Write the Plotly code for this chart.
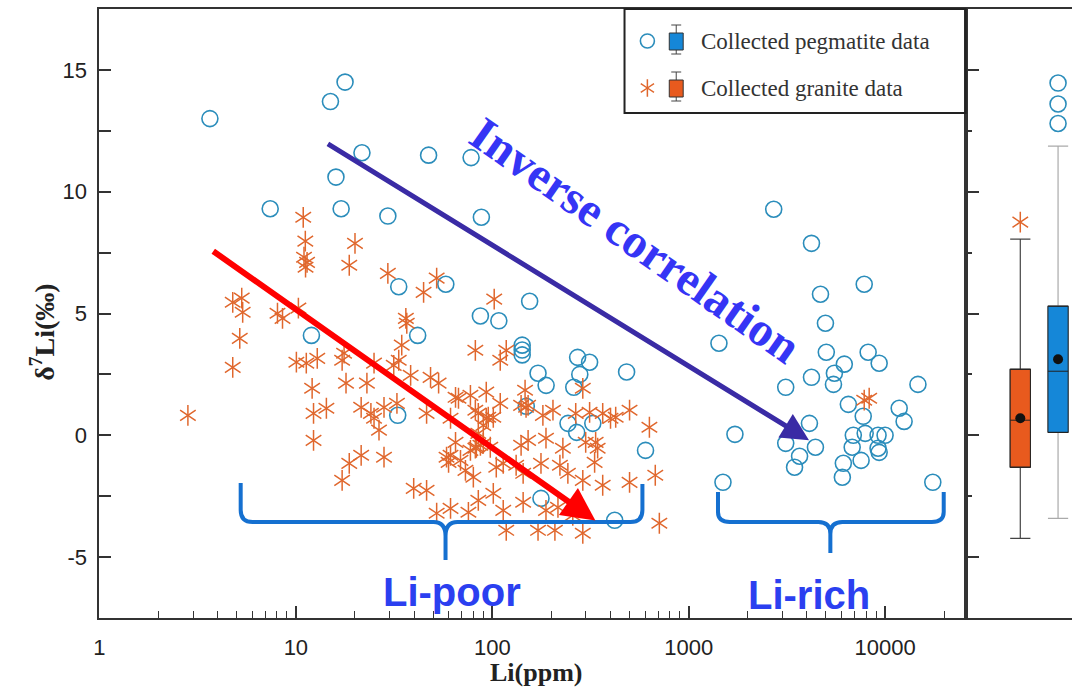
import numpy as np
import plotly.graph_objects as go

W, H = 1072, 688

# ---------------- data ----------------
peg_li = [3.65, 15.0, 17.8, 7.4, 16, 21.7, 17, 29.4, 47.4, 78, 88, 12, 33.4, 41.7, 58, 87, 108, 33,
          155, 142, 142, 142, 171, 188, 272, 313, 279, 260, 483, 149, 243, 325, 269, 603, 177, 420,
          2710, 4220, 7830, 4690, 4970, 1426, 5020, 8200, 9330, 6200, 5520, 4220, 5460, 3120, 14700,
          6500, 11800, 7740, 12500, 4120, 1720, 6890, 7920, 9210, 10000, 3120, 4420, 6800, 9210,
          9330, 3670, 7550, 6130, 3460, 6060, 1495, 17500]
peg_d7li = [13.0, 13.7, 14.5, 9.3, 10.6, 11.6, 9.3, 9.0, 11.5, 11.4, 8.95, 4.1, 6.1, 4.1, 6.2, 4.9, 4.7, 0.82,
            5.5, 3.7, 3.5, 3.3, 2.55, 2.05, 3.2, 3.0, 2.5, 1.97, 2.6, 1.19, 0.49, 0.49, 0.12, -0.62, -2.59, -3.49,
            9.28, 7.88, 6.2, 5.79, 4.6, 3.78, 3.41, 3.41, 2.96, 2.92, 2.55, 2.38, 2.09, 1.97, 2.09,
            1.27, 1.11, 0.78, 0.57, 0.49, 0.04, 0.0, 0.08, 0.0, 0.0, -0.33, -0.49, -0.49, -0.53,
            -0.70, -0.86, -1.03, -1.15, -1.31, -1.72, -1.93, -1.93]

gra_li = [2.82, 4.77, 5.30, 5.36, 5.18, 4.77, 10.9, 11.17, 11.0, 11.4, 11.2, 20.0, 18.7, 29.4, 44.7, 52.1,
          36.3, 36.7, 34.6, 8.06, 8.55, 10.3, 10.06, 11.3, 12.85, 17.6, 17.2, 25.0, 33.4, 31.5, 38.4, 48.5,
          53.3, 23.0, 18.0, 12.1, 12.3, 14.3, 21.5, 24.1, 25.0, 28.1, 32.7, 26.5, 46.3, 65.0, 77.4, 93.2,
          12.3, 21.5, 18.7, 17.2, 28.1, 39.8, 46.3, 52.1, 61.3, 75.6, 84.9, 101.2, 58.5, 68.9, 73.0, 80.1,
          77.4, 83.0, 90.0, 93.2, 101.2, 82.0, 109.8, 109.8, 82.0, 102.3, 117.8, 67.3, 146.9, 140.2, 152.2,
          61.3, 84.9, 95.4, 90.0, 84.9, 97.7, 87.0, 82.0, 65.0, 61.3, 59.9, 104.8, 113.7, 132.3, 143.6,
          177, 221, 242.6, 289, 332, 344, 336, 299, 228.8, 187.7, 152.2, 140.2, 181, 203.7, 266, 313,
          365, 400, 425, 500, 631, 365, 500, 676, 289, 148.6, 113.7, 143.6, 187.7, 216, 257, 117.8,
          171, 208.4, 289, 709, 7830, 8300]
gra_d7li = [0.82, 5.46, 5.63, 5.05, 3.98, 2.79, 8.95, 7.97, 7.31, 7.10, 6.90, 7.88, 6.98, 6.65, 5.87, 6.45,
            4.80, 4.60, 3.70, 5.01, 4.80, 5.22, 3.00, 2.96, 3.16, 3.37, 3.08, 2.96, 3.08, 2.87, 2.46, 2.38,
            2.14, 2.14, 2.14, 1.93, 0.90, 1.11, 1.15, 0.90, 0.70, 1.15, 1.31, 0.21, 0.90, 1.56, 1.64, 1.77,
            -0.21, -0.82, -1.15, -1.85, -0.90, -2.18, -2.26, -3.20, -3.00, -3.16, -2.67, -2.38, -0.90, -1.03, -1.44, -1.72,
            -0.62, -0.49, -0.33, 0.70, 0.74, 1.03, 1.31, 3.08, 3.49, 5.59, 3.49, 1.52, 1.85, 1.23, 1.23,
            0.70, 0.90, 0.74, 0.41, 0.08, -0.49, -0.41, -0.53, -0.29, -0.82, -1.11, -1.31, -1.15, -1.23, -1.56,
            -1.15, -1.23, -1.56, -1.85, -1.11, -0.53, -0.29, -0.29, -0.53, -0.12, -0.21, -0.41, 0.82, 1.03, 0.90, 0.94,
            0.90, 0.70, 0.74, 1.03, 0.33, -2.05, -1.93, -1.64, 1.93, 1.15, -3.08, -2.75, -3.08, -2.96, -3.29, -3.90,
            -3.90, -3.90, -4.02, -3.61, 1.44, 1.52]

# box-plot statistics
box_names = ["granite", "pegmatite"]
box_pos = [0.514, 0.869]
box_q1 = [-1.31, 0.12]
box_median = [0.62, 2.63]
box_q3 = [2.71, 5.30]
box_low = [-4.23, -3.41]
box_high = [8.05, 11.87]
box_mean = [0.70, 3.12]
gra_outliers = [8.75]
peg_outliers = [14.46, 13.60, 12.80]

x_tickvals = [1, 10, 100, 1000, 10000]
x_ticktext = ["1", "10", "100", "1000", "10000"]
y_tickvals = [-5, 0, 5, 10, 15]
y_ticktext = ["-5", "0", "5", "10", "15"]

# ---------------- style ----------------
BLUE_C = "#2b8dbb"
ORANGE_C = "#e0672d"
BOX_OR = "#e85a1e"
BOX_BL = "#1587d8"
AX = "#333333"
SANS = "Liberation Sans, Arial, sans-serif"
SERIF = "Liberation Serif, Times New Roman, serif"
AST = 13

X0, X1 = 94, 965
Y0, Y1 = 9, 618
dx_main = [X0 / W, X1 / W]
dx_box = [X1 / W, 1.0]
dy = [1 - Y1 / H, 1 - Y0 / H]

fig = go.Figure()

# scatter
fig.add_trace(go.Scatter(x=peg_li, y=peg_d7li, mode="markers", xaxis="x", yaxis="y",
                         marker=dict(symbol="circle-open", size=16, color=BLUE_C,
                                     line=dict(width=1.6, color=BLUE_C))))
for sym in ["y-up-open", "y-down-open"]:
    fig.add_trace(go.Scatter(x=gra_li, y=gra_d7li, mode="markers", xaxis="x", yaxis="y",
                             marker=dict(symbol=sym, size=AST, color=ORANGE_C,
                                         line=dict(width=1.5, color=ORANGE_C))))

# box plots: whiskers first, then boxes with darker outline
whisk_cols = ["#444444", "#aaaaaa"]
fills = [BOX_OR, BOX_BL]
for i in range(2):
    fig.add_trace(go.Box(x=[box_pos[i]], q1=[box_q1[i]], median=[box_median[i]], q3=[box_q3[i]],
                         lowerfence=[box_low[i]], upperfence=[box_high[i]], orientation="v",
                         xaxis="x2", yaxis="y2", width=0.19, whiskerwidth=1,
                         fillcolor=fills[i], line=dict(color=whisk_cols[i], width=1.2),
                         boxpoints=False, name=box_names[i]))
    fig.add_trace(go.Box(x=[box_pos[i]], q1=[box_q1[i]], median=[box_median[i]], q3=[box_q3[i]],
                         lowerfence=[box_q1[i]], upperfence=[box_q3[i]], orientation="v",
                         xaxis="x2", yaxis="y2", width=0.19, whiskerwidth=1,
                         fillcolor=fills[i], line=dict(color="#222222", width=1),
                         boxpoints=False, name=box_names[i]))
fig.add_trace(go.Scatter(x=box_pos, y=box_mean, mode="markers", xaxis="x2", yaxis="y2",
                         marker=dict(size=10, color="#111111")))
fig.add_trace(go.Scatter(x=[box_pos[1]] * len(peg_outliers), y=peg_outliers, mode="markers",
                         xaxis="x2", yaxis="y2",
                         marker=dict(symbol="circle-open", size=16, color=BLUE_C,
                                     line=dict(width=1.6, color=BLUE_C))))
for sym in ["y-up-open", "y-down-open"]:
    fig.add_trace(go.Scatter(x=[box_pos[0]] * len(gra_outliers), y=gra_outliers, mode="markers",
                             xaxis="x2", yaxis="y2",
                             marker=dict(symbol=sym, size=AST, color=ORANGE_C,
                                         line=dict(width=1.5, color=ORANGE_C))))

# legend markers on a pixel overlay axis
fig.add_trace(go.Scatter(x=[645], y=[41], mode="markers", xaxis="x3", yaxis="y3",
                         marker=dict(symbol="circle-open", size=14, color=BLUE_C,
                                     line=dict(width=1.6, color=BLUE_C))))
for sym in ["y-up-open", "y-down-open"]:
    fig.add_trace(go.Scatter(x=[645], y=[88], mode="markers", xaxis="x3", yaxis="y3",
                             marker=dict(symbol=sym, size=11, color=ORANGE_C,
                                         line=dict(width=1.5, color=ORANGE_C))))

minor_vals = [m * 10 ** k for k in range(0, 5) for m in range(2, 10) if m * 10 ** k < 26000]

fig.update_layout(
    width=W, height=H, margin=dict(l=0, r=0, t=0, b=0),
    paper_bgcolor="white", plot_bgcolor="rgba(0,0,0,0)", showlegend=False,
    xaxis=dict(type="log", range=[0, 4.41], domain=dx_main, anchor="y",
               showline=True, linecolor=AX, linewidth=2, mirror=True,
               ticks="inside", ticklen=12, tickwidth=1.5, tickcolor=AX,
               tickmode="array", tickvals=x_tickvals, ticktext=x_ticktext,
               tickfont=dict(family=SANS, size=22, color="#222"),
               minor=dict(ticks="inside", ticklen=7, tickwidth=1.2, tickcolor=AX,
                          tickmode="array", tickvals=minor_vals),
               showgrid=False, zeroline=False, ticklabelstandoff=9),
    yaxis=dict(range=[-7.5, 17.5], domain=dy, anchor="x",
               showline=True, linecolor=AX, linewidth=2, mirror=True,
               ticks="inside", ticklen=12, tickwidth=1.5, tickcolor=AX,
               tickmode="array", tickvals=y_tickvals, ticktext=y_ticktext,
               tickfont=dict(family=SANS, size=22, color="#222"),
               minor=dict(ticks="inside", ticklen=12, tickwidth=1.5, tickcolor=AX,
                          tickmode="linear", tick0=0, dtick=2.5),
               showgrid=False, zeroline=False, ticklabelstandoff=6),
    xaxis2=dict(domain=dx_box, anchor="y2", range=[0, 1], showline=True, linecolor=AX,
                linewidth=2, mirror=True, showticklabels=False, ticks="",
                showgrid=False, zeroline=False),
    yaxis2=dict(domain=dy, anchor="x2", range=[-7.5, 17.5], showline=True, linecolor=AX,
                linewidth=2, ticks="inside", ticklen=13, tickwidth=1.5, tickcolor=AX,
                tickmode="linear", tick0=0, dtick=5, showticklabels=False,
                minor=dict(ticks="inside", ticklen=6, tickwidth=1.5, tickcolor=AX, dtick=2.5),
                showgrid=False, zeroline=False),
    xaxis3=dict(domain=[0, 1], range=[0, W], anchor="y3", visible=False, fixedrange=True),
    yaxis3=dict(domain=[0, 1], range=[H, 0], anchor="x3", visible=False, fixedrange=True),
)

shapes = []
# legend frame and box icons (pixel overlay)
shapes.append(dict(type="rect", xref="x3", yref="y3", x0=622, y0=9, x1=965, y1=113,
                   line=dict(color="#222", width=2)))
for (yc, col) in [(41, BOX_BL), (88, BOX_OR)]:
    shapes.append(dict(type="line", xref="x3", yref="y3", x0=674, x1=674, y0=yc - 16, y1=yc + 13,
                       line=dict(color="#444", width=1)))
    shapes.append(dict(type="line", xref="x3", yref="y3", x0=669, x1=679, y0=yc - 16, y1=yc - 16,
                       line=dict(color="#444", width=1)))
    shapes.append(dict(type="line", xref="x3", yref="y3", x0=669, x1=679, y0=yc + 13, y1=yc + 13,
                       line=dict(color="#444", width=1)))
    shapes.append(dict(type="rect", xref="x3", yref="y3", x0=667, x1=681, y0=yc - 8, y1=yc + 9,
                       fillcolor=col, line=dict(color="#333", width=1)))
# curly braces
BR = "#1570d0"
shapes.append(dict(type="path", xref="x3", yref="y3", line=dict(color=BR, width=4),
                   path="M236,483 L236,510 Q236,522 248,522 L430,522 Q442,522 442,536 L442,560 "
                        "M442,536 Q442,522 454,522 L628,522 Q640,522 640,510 L640,484"))
shapes.append(dict(type="path", xref="x3", yref="y3", line=dict(color=BR, width=4),
                   path="M716,492 L716,512 Q716,522 728,522 L817,522 Q829,522 829,534 L829,553 "
                        "M829,534 Q829,522 841,522 L931,522 Q943,522 943,512 L943,492"))
fig.update_layout(shapes=shapes)

ann = []
# arrows in data coordinates of the main axes
ann.append(dict(xref="x", yref="y", axref="x", ayref="y",
                x=np.log10(4100), y=-0.2, ax=np.log10(14.3), ay=12.0,
                showarrow=True, arrowhead=2, arrowsize=1.1, arrowwidth=5,
                arrowcolor="#3a2ba5", text=""))
ann.append(dict(xref="x", yref="y", axref="x", ayref="y",
                x=np.log10(335), y=-3.5, ax=np.log10(3.73), ay=7.6,
                showarrow=True, arrowhead=2, arrowsize=1.1, arrowwidth=6,
                arrowcolor="#ff0000", text=""))
ann.append(dict(xref="x3", yref="y3", x=634, y=240, text="Inverse correlation", showarrow=False,
                textangle=35, font=dict(family=SERIF, size=48, color="#3535f5", weight="bold")))
ann.append(dict(xref="x3", yref="y3", x=449, y=592, text="Li-poor", showarrow=False,
                font=dict(family=SANS, size=40, color="#2b3ff0", weight="bold")))
ann.append(dict(xref="x3", yref="y3", x=808, y=595, text="Li-rich", showarrow=False,
                font=dict(family=SANS, size=40, color="#2b3ff0", weight="bold")))
ann.append(dict(xref="x3", yref="y3", x=697, y=41, xanchor="left", text="Collected pegmatite data",
                showarrow=False, font=dict(family=SERIF, size=23, color="#333")))
ann.append(dict(xref="x3", yref="y3", x=697, y=88, xanchor="left", text="Collected granite data",
                showarrow=False, font=dict(family=SERIF, size=23, color="#333")))
ann.append(dict(xref="x3", yref="y3", x=533, y=672, text="Li(ppm)", showarrow=False,
                font=dict(family=SERIF, size=26, color="#222", weight="bold")))
ann.append(dict(xref="x3", yref="y3", x=36, y=332, text="δ<sup>7</sup>Li(‰)", showarrow=False,
                textangle=-90, font=dict(family=SERIF, size=28, color="#222", weight="bold")))
fig.update_layout(annotations=ann)

fig.write_html("out.html")
